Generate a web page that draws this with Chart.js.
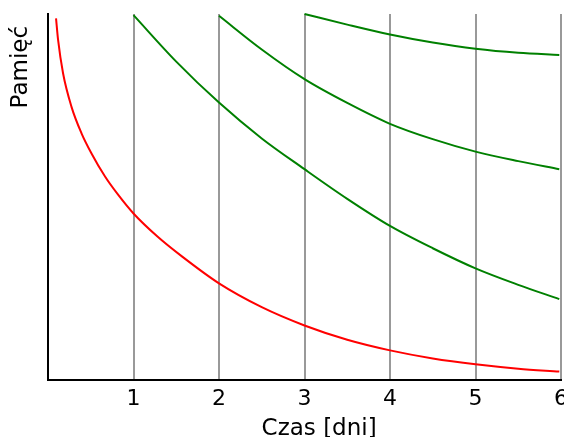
<!DOCTYPE html>
<html>
<head>
<meta charset="utf-8">
<script src="https://cdn.jsdelivr.net/npm/chart.js@4"></script>
<style>
  html, body { margin: 0; padding: 0; background: #fff; overflow: hidden; }
  #wrap { width: 576px; height: 445px; }
</style>
</head>
<body>
<div id="wrap"><canvas id="chart"></canvas></div>
<script>
// ---------- Data ----------
const xTicks = [1, 2, 3, 4, 5, 6];

// forgetting curve without review
const redX = [0.094, 0.118, 0.176, 0.274, 0.392, 0.509, 0.667, 0.824, 1, 1.28, 1.57, 2, 2.5, 3, 3.5, 4, 4.5, 5, 5.5, 5.98];
const redY = [98.8, 92.9, 83.8, 74.7, 67.4, 61.9, 55.6, 50.5, 45.5, 39.2, 33.7, 26.4, 19.9, 14.9, 11.0, 8.1, 5.9, 4.3, 3.1, 2.3];

// curves after review on day 1, 2, 3
const green1X = [1, 1.5, 2, 2.5, 3, 3.5, 4, 4.5, 5, 5.5, 5.98];
const green1Y = [99.7, 87, 75.8, 66, 57.6, 49.5, 42.1, 36, 30.5, 26, 22.1];
const green2X = [2, 2.5, 3, 3.5, 4, 4.5, 5, 5.5, 5.98];
const green2Y = [99.5, 90.3, 82.2, 75.7, 70, 65.8, 62.4, 59.8, 57.6];
const green3X = [3, 3.5, 4, 4.5, 5, 5.5, 5.98];
const green3Y = [100, 97.1, 94.4, 92.2, 90.5, 89.4, 88.8];

const toPoints = (xs, ys) => xs.map((x, i) => ({ x: x, y: ys[i] }));

function curve(xs, ys, color) {
    return {
        data: toPoints(xs, ys),
        borderColor: color,
        borderWidth: 2,
        pointRadius: 0,
        fill: false,
        cubicInterpolationMode: 'monotone',
        clip: 4
    };
}

const ctx = document.getElementById('chart').getContext('2d');
new Chart(ctx, {
    type: 'line',
    data: {
        datasets: [
            curve(redX, redY, '#ff0000'),
            curve(green1X, green1Y, '#008000'),
            curve(green2X, green2Y, '#008000'),
            curve(green3X, green3Y, '#008000')
        ]
    },
    options: {
        responsive: true,
        maintainAspectRatio: false,
        animation: false,
        layout: { padding: { top: 14, left: 0, right: 0, bottom: 0 } },
        plugins: { legend: { display: false }, tooltip: { enabled: false } },
        scales: {
            x: {
                type: 'linear',
                min: 0,
                max: 6,
                afterBuildTicks: axis => {
                    axis.ticks = [0].concat(xTicks).map(v => ({ value: v }));
                },
                ticks: {
                    color: '#000',
                    padding: 8,
                    font: { family: 'DejaVu Sans', size: 22, lineHeight: 1 },
                    callback: v => (v === 0 ? '' : String(v))
                },
                grid: {
                    drawTicks: false,
                    lineWidth: 2,
                    color: c => (c.tick && c.tick.value === 0 ? 'rgba(0,0,0,0)' : '#999999')
                },
                border: { display: true, color: '#000', width: 2 },
                title: {
                    display: true,
                    text: '\u00a0\u00a0\u00a0\u00a0Czas [dni]',
                    color: '#000',
                    font: { family: 'DejaVu Sans', size: 23, lineHeight: 1 },
                    padding: { top: 0, bottom: 4 }
                }
            },
            y: {
                min: 0,
                max: 100,
                ticks: { display: false },
                grid: { display: false, drawTicks: false },
                border: { display: true, color: '#000', width: 2 },
                title: {
                    display: true,
                    align: 'end',
                    text: 'Pamięć\u00a0\u2009',
                    color: '#000',
                    font: { family: 'DejaVu Sans', size: 23, lineHeight: 1 },
                    padding: { top: 10, bottom: 15 }
                }
            }
        }
    }
});
</script>
</body>
</html>
